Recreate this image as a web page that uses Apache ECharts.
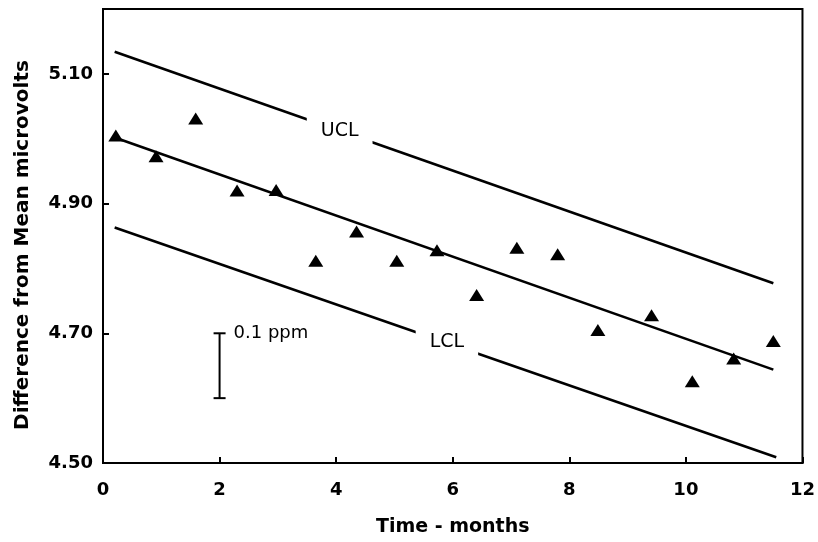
<!DOCTYPE html>
<html>
<head>
<meta charset="utf-8">
<script src="https://cdn.jsdelivr.net/npm/echarts@6/dist/echarts.min.js"></script>
<style>html,body{margin:0;padding:0;background:#fff}#c{width:818px;height:542px}</style>
</head>
<body>
<div id="c"></div>
<script>
// Data
const months = [0.22, 0.91, 1.59, 2.30, 2.97, 3.65, 4.35, 5.04, 5.73, 6.41, 7.10, 7.80, 8.49, 9.41, 10.11, 10.82, 11.50];
const values = [5.005, 4.973, 5.031, 4.920, 4.921, 4.812, 4.857, 4.812, 4.828, 4.759, 4.832, 4.822, 4.705, 4.728, 4.626, 4.661, 4.688];
const centerLine = [[0.2, 5.002], [11.5, 4.644]];
const uclLine = [[0.2, 5.134], [11.5, 4.777]];
const lclLine = [[0.2, 4.863], [11.55, 4.509]];
const uclLabel = [[4.06, 5.012]];
const lclLabel = [[5.9, 4.687]];
const scaleBar = [[2, 4.60], [2, 4.70]];
const yTicks = [4.50, 4.70, 4.90, 5.10];

const points = months.map((m, i) => [m, values[i]]);
const font = 'DejaVu Sans';

const chart = echarts.init(document.getElementById('c'));
chart.setOption({
  animation: false,
  grid: { left: 103, right: 13, top: 9, bottom: 76, show: true, borderColor: '#000', borderWidth: 2 },
  xAxis: {
    type: 'value', min: 0, max: 12, interval: 2,
    name: 'Time - months', nameLocation: 'middle', nameGap: 55,
    nameTextStyle: { fontFamily: font, fontWeight: 'bold', fontSize: 19, color: '#000' },
    axisLine: { lineStyle: { color: '#000', width: 2 } },
    axisTick: { inside: true, length: 6, lineStyle: { color: '#000', width: 2 } },
    axisLabel: { fontFamily: font, fontWeight: 'bold', fontSize: 18, color: '#000', margin: 18 },
    splitLine: { show: false }
  },
  yAxis: {
    type: 'value', min: 4.5, max: 5.2,
    name: 'Difference from Mean microvolts', nameLocation: 'middle', nameGap: 70, nameRotate: 90,
    nameTextStyle: { fontFamily: font, fontWeight: 'bold', fontSize: 20, color: '#000', padding: [0, 18, 0, 0] },
    axisLine: { lineStyle: { color: '#000', width: 2 } },
    axisTick: { inside: true, length: 6, customValues: yTicks, lineStyle: { color: '#000', width: 2 } },
    axisLabel: { fontFamily: font, fontWeight: 'bold', fontSize: 18, color: '#000', margin: 10,
      customValues: yTicks, formatter: v => v.toFixed(2) },
    splitLine: { show: false }
  },
  series: [
    { type: 'line', data: centerLine, symbol: 'none', lineStyle: { color: '#000', width: 2.6 }, z: 2 },
    { type: 'line', data: uclLine, symbol: 'none', lineStyle: { color: '#000', width: 2.6 }, z: 2 },
    { type: 'line', data: lclLine, symbol: 'none', lineStyle: { color: '#000', width: 2.6 }, z: 2 },
    { type: 'scatter', data: points, symbol: 'triangle', symbolSize: [15, 12], itemStyle: { color: '#000', opacity: 1 }, z: 4 },
    { type: 'scatter', data: uclLabel, symbolSize: 0, z: 3, itemStyle: { opacity: 1 },
      label: { show: true, position: 'inside', formatter: 'UCL', fontFamily: font, fontSize: 19, color: '#000',
        backgroundColor: '#fff', padding: [6, 14, 6, 14] } },
    { type: 'scatter', data: lclLabel, symbolSize: 0, z: 3, itemStyle: { opacity: 1 },
      label: { show: true, position: 'inside', formatter: 'LCL', fontFamily: font, fontSize: 19, color: '#000',
        backgroundColor: '#fff', padding: [6, 14, 6, 14] } },
    { type: 'line', data: scaleBar, symbol: 'rect', symbolSize: [12, 2], showAllSymbol: true,
      itemStyle: { color: '#000' }, lineStyle: { color: '#000', width: 2 }, z: 2,
      label: { show: true, position: 'right', distance: 8, fontFamily: font, fontSize: 18, color: '#000',
        formatter: p => p.dataIndex === 1 ? '0.1 ppm' : '' } }
  ]
});
</script>
</body>
</html>
